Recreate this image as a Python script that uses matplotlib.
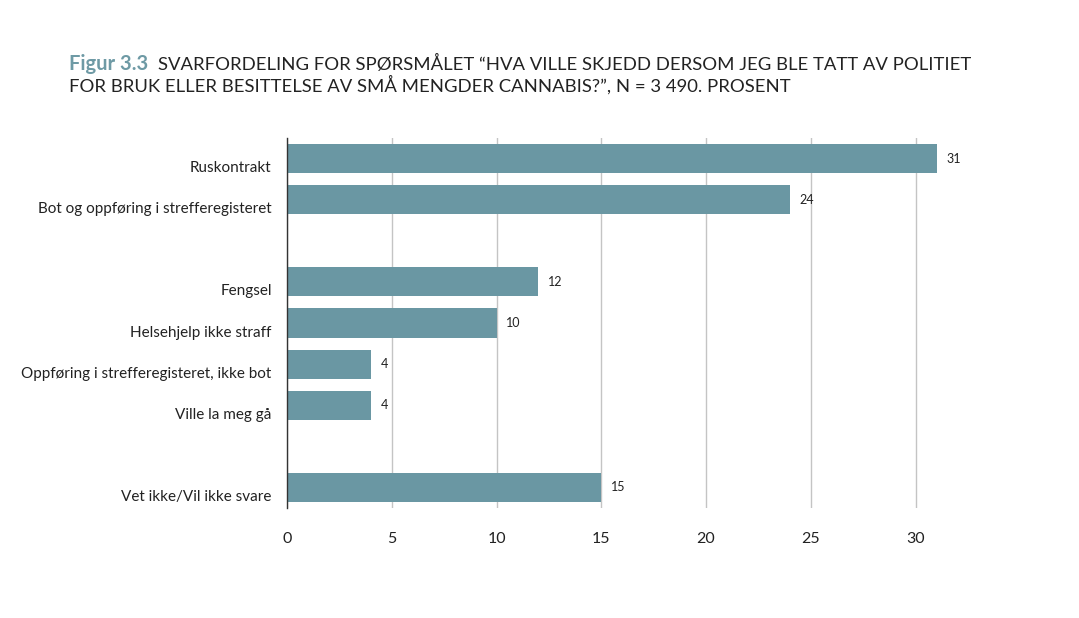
import matplotlib
matplotlib.use("Agg")
import matplotlib.pyplot as plt
import matplotlib.transforms as mtrans

categories = ["Ruskontrakt", "Bot og oppføring i strefferegisteret",
              "Fengsel", "Helsehjelp ikke straff",
              "Oppføring i strefferegisteret, ikke bot", "Ville la meg gå",
              "Vet ikke/Vil ikke svare"]
values = [31, 24, 12, 10, 4, 4, 15]
slots = [0, 1, 3, 4, 5, 6, 8]
xticks = [0, 5, 10, 15, 20, 25, 30]

bar_color = "#6a97a3"
plt.rcParams['font.family'] = ['Lato', 'DejaVu Sans']

W, H = 1079, 618
fig = plt.figure(figsize=(W / 100, H / 100), dpi=100)
ax = fig.add_axes([287 / W, 1 - 508 / H, (947 - 287) / W, (508 - 138) / H])

ax.barh(slots, values, height=0.71, color=bar_color, zorder=3)
ax.set_ylim(8.5, -0.5)
ax.set_xlim(0, 31.5)

ax.set_xticks(xticks)
ax.set_xticklabels([str(t) for t in xticks], fontsize=11.5, color="#222222")
ax.tick_params(axis="x", length=0, pad=17)
ax.set_yticks(slots)
ax.set_yticklabels(categories, fontsize=11, color="#222222")
ax.tick_params(axis="y", length=0, pad=11)
offset = mtrans.ScaledTranslation(0, -8 / 100, fig.dpi_scale_trans)
for lab in ax.get_yticklabels():
    lab.set_transform(lab.get_transform() + offset)

ax.grid(axis="x", color="#c4c4c4", linewidth=1, zorder=0)
ax.grid(axis="y", visible=False)
for s in ["top", "right", "bottom"]:
    ax.spines[s].set_visible(False)
ax.spines["left"].set_color("#333333")
ax.spines["left"].set_linewidth(1)
ax.spines["left"].set_zorder(4)

for y, v in zip(slots, values):
    ax.annotate(str(v), xy=(v, y), xytext=(7, 0), textcoords="offset points",
                va="center", ha="left", fontsize=9, color="#222222")

tsize = 13.3
t1 = fig.text(69 / W, 1 - 70 / H, "Figur 3.3", fontsize=14.5, fontweight="bold",
              color="#6e9aa5", ha="left", va="baseline")
fig.canvas.draw()
bb = t1.get_window_extent(renderer=fig.canvas.get_renderer())
x_after = (bb.x1 + 10) / W
fig.text(x_after, 1 - 70 / H,
         "SVARFORDELING FOR SPØRSMÅLET \u201cHVA VILLE SKJEDD DERSOM JEG BLE TATT AV POLITIET",
         fontsize=tsize, color="#222222", ha="left", va="baseline")
fig.text(69 / W, 1 - 92 / H,
         "FOR BRUK ELLER BESITTELSE AV SMÅ MENGDER CANNABIS?\u201d, N = 3 490. PROSENT",
         fontsize=tsize, color="#222222", ha="left", va="baseline")

fig.savefig("out.png", dpi=100, facecolor="white")
